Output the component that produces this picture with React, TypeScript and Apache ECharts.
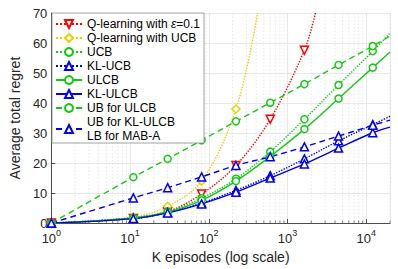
import React, { useEffect, useRef } from "react";
import * as echarts from "echarts";

const K = [1, 11, 30, 81, 221, 602, 1636, 4447, 12088];
const K_END = 20000;

const qEps = [0, 1.5, 3.8, 9.7, 19.2, 34.6, 57.6];
const qEpsTail: [number, number] = [2260, 70];
const qUcb = [0, 2.0, 5.6, 14.0, 38.0];
const qUcbTail: [number, number] = [417, 70];
const ucb = [0, 1.8, 3.9, 8.3, 14.8, 23.8, 34.6, 46.0, 57.3];
const ucbEnd = 63.3;
const klUcb = [0, 1.6, 3.5, 6.7, 10.9, 15.8, 21.4, 27.4, 32.8];
const klUcbEnd = 35.6;
const ulcb = [0, 1.7, 3.7, 7.6, 14.0, 22.2, 31.3, 41.5, 51.8];
const ulcbEnd = 57.0;
const klUlcb = [0, 1.5, 3.4, 6.4, 10.3, 15.0, 19.7, 25.0, 30.1];
const klUlcbEnd = 32.0;
const ubUlcb = [0, 15.3, 21.4, 27.6, 33.9, 40.1, 46.3, 52.7, 59.0];
const ubUlcbEnd = 62.3;
const ubKl = [0, 8.4, 11.8, 15.4, 19.2, 22.1, 25.4, 29.0, 32.6];
const ubKlEnd = 34.3;

const yTicks = [0, 10, 20, 30, 40, 50, 60, 70];
const minorK = [
  2, 3, 4, 5, 6, 7, 8, 9,
  20, 30, 40, 50, 60, 70, 80, 90,
  200, 300, 400, 500, 600, 700, 800, 900,
  2000, 3000, 4000, 5000, 6000, 7000, 8000, 9000,
  20000,
];

const NAMES = [
  "Q-learning with ε=0.1",
  "Q-learning with UCB",
  "UCB",
  "KL-UCB",
  "ULCB",
  "KL-ULCB",
  "UB for ULCB",
  "UB for KL-ULCB\nLB for MAB-A",
];

const RED = "#ff0000";
const YEL = "#e6d000";
const GRN = "#14c814";
const BLU = "#0000f0";
const FONT = "'Liberation Sans', Arial, sans-serif";
const INK = "#262626";

function pts(vals: number[], tail?: [number, number] | null, endVal?: number) {
  const d: any[] = vals.map((v, i) => [K[i], v]);
  if (tail) d.push({ value: tail, symbol: "none" });
  if (endVal !== undefined) d.push({ value: [K_END, endVal], symbol: "none" });
  return d;
}

function lineSeries(
  name: string,
  data: any[],
  color: string,
  type: any,
  symbol: string,
  symbolSize: number,
  rotate = 0
) {
  return {
    name,
    type: "line",
    data,
    smooth: 0.35,
    clip: true,
    symbol,
    symbolSize,
    symbolRotate: rotate,
    showAllSymbol: true,
    lineStyle: { color, width: 1.4, type },
    itemStyle: { color: "#ffffff", borderColor: color, borderWidth: 1.5 },
    z: 3,
  };
}

export default function App() {
  const ref = useRef<HTMLDivElement>(null);
  useEffect(() => {
    document.body.style.margin = "0";
    const chart = echarts.init(ref.current!, null, { renderer: "svg" });
    const option: any = {
      animation: false,
      textStyle: { fontFamily: FONT },
      grid: { left: 50, top: 13, right: 8, bottom: 42 },
      xAxis: {
        type: "log",
        logBase: 10,
        min: 1,
        max: K_END,
        splitNumber: 5,
        name: "K episodes (log scale)",
        nameLocation: "middle",
        nameGap: 25,
        nameTextStyle: { fontSize: 14, color: INK, fontFamily: FONT },
        axisLine: { lineStyle: { color: INK, width: 0.8 } },
        axisTick: { inside: true, length: 4, lineStyle: { color: INK, width: 0.8 } },
        axisLabel: {
          showMaxLabel: false,
          margin: 5,
          color: INK,
          formatter: (v: number) => {
            const e = Math.round(Math.log10(v));
            if (Math.abs(Math.pow(10, e) - v) > 1e-6 * v) return "";
            return `{b|10}{s|${e}}`;
          },
          rich: {
            b: { fontSize: 13, lineHeight: 17, verticalAlign: "bottom", color: INK, fontFamily: FONT },
            s: { fontSize: 9, lineHeight: 10, verticalAlign: "top", color: INK, fontFamily: FONT },
          },
        },
        splitLine: { show: true, lineStyle: { color: "#e2e2e2", width: 0.8 } },
      },
      yAxis: {
        type: "value",
        min: yTicks[0],
        max: yTicks[yTicks.length - 1],
        interval: 10,
        name: "Average total regret",
        nameLocation: "middle",
        nameGap: 29,
        nameTextStyle: { fontSize: 14, color: INK, fontFamily: FONT },
        axisLine: { show: true, lineStyle: { color: INK, width: 0.8 } },
        axisTick: { show: true, inside: true, length: 4, lineStyle: { color: INK, width: 0.8 } },
        axisLabel: { fontSize: 13, color: INK, margin: 4, fontFamily: FONT },
        splitLine: { show: true, lineStyle: { color: "#e2e2e2", width: 0.8 } },
      },
      legend: {
        orient: "vertical",
        left: 52,
        top: 13,
        padding: [4, 4, 0, 3],
        itemGap: 0,
        itemWidth: 26,
        itemHeight: 10,
        backgroundColor: "#ffffff",
        borderColor: "#8c8c8c",
        borderWidth: 0.8,
        borderRadius: 0,
        data: NAMES,
        textStyle: {
          fontSize: 12,
          lineHeight: 14,
          color: "#000000",
          fontFamily: FONT,
          rich: {
            i: { fontSize: 12, fontStyle: "italic", fontFamily: FONT, color: "#000", lineHeight: 14 },
            t: { fontSize: 12, fontFamily: FONT, color: "#000", lineHeight: 14 },
          },
        },
        formatter: (n: string) =>
          n === NAMES[0] ? "{t|Q-learning with }{i|ε}{t|=0.1}" : n,
        z: 10,
      },
      series: [
        {
          name: "minor",
          type: "custom",
          silent: true,
          z: 0,
          data: minorK.map((k) => [k, 0]),
          encode: { x: 0, y: 1 },
          renderItem: (params: any, api: any) => {
            const x = api.coord([api.value(0), 0])[0];
            const cs = params.coordSys;
            return {
              type: "group",
              children: [
                {
                  type: "line",
                  shape: { x1: x, y1: cs.y, x2: x, y2: cs.y + cs.height },
                  style: { stroke: "#dcdcdc", lineWidth: 0.7, lineDash: [1.5, 2] },
                },
                {
                  type: "line",
                  shape: { x1: x, y1: cs.y + cs.height, x2: x, y2: cs.y + cs.height - 2.5 },
                  style: { stroke: INK, lineWidth: 0.6 },
                },
              ],
            };
          },
        },
        lineSeries(NAMES[0], pts(qEps, qEpsTail), RED, "dotted", "triangle", 8, 180),
        lineSeries(NAMES[1], pts(qUcb, qUcbTail), YEL, "dotted", "diamond", 8),
        lineSeries(NAMES[2], pts(ucb, null, ucbEnd), GRN, "dotted", "circle", 7),
        lineSeries(NAMES[3], pts(klUcb, null, klUcbEnd), BLU, "dotted", "triangle", 8),
        lineSeries(NAMES[4], pts(ulcb, null, ulcbEnd), GRN, "solid", "circle", 7),
        lineSeries(NAMES[5], pts(klUlcb, null, klUlcbEnd), BLU, "solid", "triangle", 8),
        lineSeries(NAMES[6], pts(ubUlcb, null, ubUlcbEnd), GRN, [6, 4], "circle", 7),
        lineSeries(NAMES[7], pts(ubKl, null, ubKlEnd), BLU, [6, 4], "triangle", 8),
      ],
    };
    chart.setOption(option);
    return () => chart.dispose();
  }, []);
  return <div ref={ref} style={{ width: 398, height: 269 }} />;
}
